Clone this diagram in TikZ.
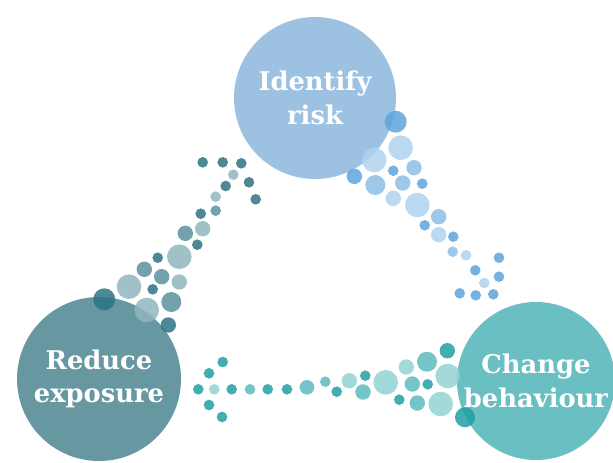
\documentclass[tikz,border=0pt]{standalone}
\usepackage{fontspec}
\setmainfont{DejaVu Serif}
\usetikzlibrary{positioning}
\definecolor{riskblue}{HTML}{9DC1E1}
\definecolor{expteal}{HTML}{6798A2}
\definecolor{chgteal}{HTML}{6ABFC3}
\definecolor{bdark}{HTML}{5EA5DC}
\definecolor{bmid}{HTML}{8CBEE6}
\definecolor{blight}{HTML}{AFD2EE}
\definecolor{tdark}{HTML}{22A0A3}
\definecolor{tmid}{HTML}{5DBBBE}
\definecolor{tlight}{HTML}{94D2D3}
\definecolor{ddark}{HTML}{2D7383}
\definecolor{dmid}{HTML}{5C929E}
\definecolor{dlight}{HTML}{91B6BE}
\begin{document}
\begin{tikzpicture}[x=0.03cm, y=-0.03cm,
    stage/.style={circle, minimum size=#1, inner sep=0pt},
    stagetext/.style={text=white, align=center,
      font=\fontsize{22}{28.5}\selectfont\bfseries},
    dot/.style={fill=#1, fill opacity=0.85}]
  \useasboundingbox (0,0) rectangle (613,462);

  \node[stage=4.86cm, fill=riskblue] (risk) at (315,98) {};
  \node[stage=4.92cm, fill=expteal] (reduce) at (99,379) {};
  \node[stage=4.74cm, fill=chgteal] (change) at (536,381) {};

  \foreach \x/\y/\r/\c in {395.7/121.7/11/bdark, 400.7/147.7/12.3/blight,
      374.3/160/12.3/blight, 414/167.7/7.7/bmid, 393.3/170.7/5.3/bdark,
      354.3/176.3/7.7/bdark, 375.3/185/10/bmid, 402.7/183/7.7/bmid,
      422.3/183.7/5.3/bdark, 393.3/198.3/7.7/blight, 417.3/205/12.3/blight,
      438.7/216.7/7.7/bmid, 424.7/225.3/5.3/bdark, 438.7/234.7/7.7/blight,
      453.3/236.7/5.3/bdark, 452.7/251.7/5.3/bmid, 466/255.3/5.3/blight,
      499/257.7/5.3/bdark, 475.3/270.3/5.3/bdark, 499/276.7/5.3/bdark,
      484.3/283/5.3/blight, 459.7/293.3/5.3/bdark, 475.7/295.3/5.3/bdark,
      493.3/294.3/5.3/bdark}
    \fill[dot=\c] (\x,\y) circle (\r);

  \foreach \x/\y/\r/\c in {198.3/389.3/5.3/tdark, 214.3/389.3/5.3/tlight,
      209/373.3/5.3/tdark, 222.7/362/5.3/tdark, 209/405/5.3/tdark,
      222/417/5.3/tdark, 231.7/389.3/5.3/tdark, 250/389.3/5.3/tmid,
      267.7/389.3/5.3/tdark, 287/389.3/5.3/tdark, 307/387.3/7.3/tmid,
      325.3/381.7/5.3/tmid, 336.7/391.7/5.3/tdark, 349.3/380.7/7.7/tlight,
      365.3/375.7/5.3/tdark, 363/392/7.7/tmid, 385.7/382.3/12.3/tlight,
      406.3/367/7.7/tlight, 427/361.7/10/tmid, 447.3/350.7/7.7/tdark,
      412.3/384/7.7/tmid, 427.7/384.3/5.3/tdark, 399.3/399.7/5.3/tdark,
      417.3/403/7.7/tmid, 447.7/376/12.3/tlight, 440.7/404/12.3/tlight,
      465/417.3/10/tdark}
    \fill[dot=\c] (\x,\y) circle (\r);

  \foreach \x/\y/\r/\c in {202.7/162.3/5.3/ddark, 222.7/162.3/5.3/ddark,
      241.3/163.3/5.3/ddark, 233.3/174.7/5.3/dlight, 225.7/186/5.3/ddark,
      249/182.3/5.3/ddark, 255.7/199.3/5.3/ddark, 215.7/196.7/5.3/dlight,
      215.7/210.7/5.3/dmid, 200.7/213.7/5.3/ddark, 202.7/228.7/7.7/dlight,
      185.3/233.3/7.7/dmid, 197.3/244.7/5.3/ddark, 179.3/256.7/12.3/dlight,
      157.7/257.7/5.3/ddark, 144.3/269.3/7.7/dmid, 161.7/276.7/7.7/dmid,
      179.3/282/7.7/dlight, 129/286.7/12.3/dlight, 152.7/289.3/5.3/ddark,
      104.3/299.3/11/ddark, 146.7/310/12.3/dlight, 171.3/302/10/dmid,
      168.3/325/7.7/ddark}
    \fill[dot=\c] (\x,\y) circle (\r);

  \node[stagetext] at (risk) {Identify\\risk};
  \node[stagetext] at (reduce) {Reduce\\exposure};
  \node[stagetext] at (change) {Change\\behaviour};
\end{tikzpicture}
\end{document}
